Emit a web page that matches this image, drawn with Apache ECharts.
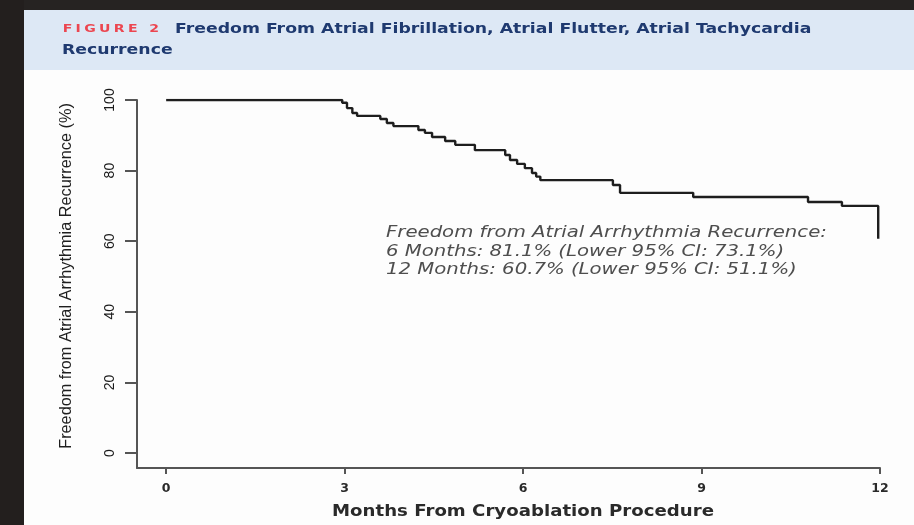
<!DOCTYPE html>
<html>
<head>
<meta charset="utf-8">
<script src="https://cdn.jsdelivr.net/npm/echarts@6/dist/echarts.min.js"></script>
<style>
html,body{margin:0;padding:0;background:#fdfdfd;}
#chart{width:914px;height:525px;}
</style>
</head>
<body>
<div id="chart"></div>
<script>
// Kaplan-Meier event times (months) and freedom from recurrence (%) after each step
var months = [0, 2.96, 3.04, 3.13, 3.21, 3.60, 3.71, 3.82, 4.24, 4.35, 4.47, 4.69, 4.86, 5.19, 5.70, 5.78, 5.90, 6.03, 6.15, 6.22, 6.29, 7.51, 7.63, 8.86, 10.79, 11.36, 11.97];
var freedom = [100, 99.2, 97.7, 96.3, 95.5, 94.6, 93.5, 92.6, 91.5, 90.7, 89.5, 88.4, 87.3, 85.8, 84.4, 83.0, 81.9, 80.7, 79.3, 78.3, 77.3, 75.9, 73.7, 72.5, 71.1, 70.0, 60.7];
var xTicks = [0, 3, 6, 9, 12];
var yTicks = [0, 20, 40, 60, 80, 100];
var figureLabel = 'FIGURE 2';
var titleLine1 = 'Freedom From Atrial Fibrillation, Atrial Flutter, Atrial Tachycardia';
var titleLine2 = 'Recurrence';
var xTitle = 'Months From Cryoablation Procedure';
var yTitle = 'Freedom from Atrial Arrhythmia Recurrence (%)';
var noteLines = [
  'Freedom from Atrial Arrhythmia Recurrence:',
  '6 Months: 81.1% (Lower 95% CI: 73.1%)',
  '12 Months: 60.7% (Lower 95% CI: 51.1%)'
];

var data = months.map(function (m, i) { return [m, freedom[i]]; });

var figRich = figureLabel.split('').map(function (c) { return '{f|' + c + '}'; }).join('');

var chart = echarts.init(document.getElementById('chart'), null, {renderer: 'canvas'});
chart.setOption({
  backgroundColor: '#fdfdfd',
  animation: false,
  graphic: [
    {type: 'rect', left: 0, top: 0, shape: {width: 914, height: 10}, style: {fill: '#262322'}, z: 0},
    {type: 'rect', left: 0, top: 0, shape: {width: 24, height: 525}, style: {fill: '#231f1e'}, z: 0},
    {type: 'rect', left: 24, top: 10, shape: {width: 890, height: 60}, style: {fill: '#dde8f5'}, z: 0},
    {type: 'text', x: 61, y: 24, scaleX: 1.28, z: 2, style: {
      text: figRich,
      rich: {f: {fontFamily: 'DejaVu Sans', fontWeight: 'bold', fontSize: 11, fill: '#ec4650', padding: [0, 1.3]}}
    }},
    {type: 'text', x: 175, y: 22, scaleX: 1.28, z: 2, style: {
      text: titleLine1, fontFamily: 'DejaVu Sans', fontWeight: 'bold', fontSize: 13.5, fill: '#1f3a70'
    }},
    {type: 'text', x: 62, y: 43, scaleX: 1.28, z: 2, style: {
      text: titleLine2, fontFamily: 'DejaVu Sans', fontWeight: 'bold', fontSize: 13.5, fill: '#1f3a70'
    }},
    {type: 'text', x: 386, y: 224, scaleX: 1.23, z: 2, style: {
      text: noteLines.join('\n'), fontFamily: 'DejaVu Sans', fontStyle: 'italic', fontSize: 16, lineHeight: 18.5, fill: '#4e4e4e'
    }},
    {type: 'text', x: 523, y: 512, scaleX: 1.1, z: 2, style: {
      text: xTitle, fontFamily: 'DejaVu Sans', fontWeight: 'bold', fontSize: 16.5, fill: '#2a2a2a',
      align: 'center', verticalAlign: 'middle'
    }},
    {type: 'text', x: 67, y: 276, rotation: Math.PI / 2, z: 2, style: {
      text: yTitle, fontFamily: 'Liberation Sans Narrow, Liberation Sans, sans-serif', fontSize: 16.3, fill: '#1e1e1e',
      align: 'center', verticalAlign: 'middle'
    }}
  ],
  grid: {left: 137, right: 34, top: 100, bottom: 57, containLabel: false, outerBoundsMode: 'none'},
  xAxis: {
    type: 'value', min: -0.49, max: 12,
    axisLine: {onZero: false, lineStyle: {color: '#555', width: 2}},
    axisTick: {customValues: xTicks, length: 6, lineStyle: {color: '#555', width: 2}},
    axisLabel: {customValues: xTicks, margin: 14, fontFamily: 'DejaVu Sans', fontWeight: 'bold', fontSize: 12.5, color: '#2a2a2a'},
    splitLine: {show: false}
  },
  yAxis: {
    type: 'value', min: -4.25, max: 100,
    axisLine: {onZero: false, lineStyle: {color: '#555', width: 2}},
    axisTick: {customValues: yTicks, length: 12, lineStyle: {color: '#555', width: 2}},
    axisLabel: {customValues: yTicks, rotate: 90, margin: 20, fontFamily: 'Liberation Sans Narrow, Liberation Sans, sans-serif', fontSize: 14, color: '#1a1a1a'},
    splitLine: {show: false}
  },
  series: [{
    type: 'line', step: 'end', data: data, showSymbol: false, symbol: 'none',
    lineStyle: {color: '#1e1e1e', width: 2.4}, z: 3
  }]
});
</script>
</body>
</html>
